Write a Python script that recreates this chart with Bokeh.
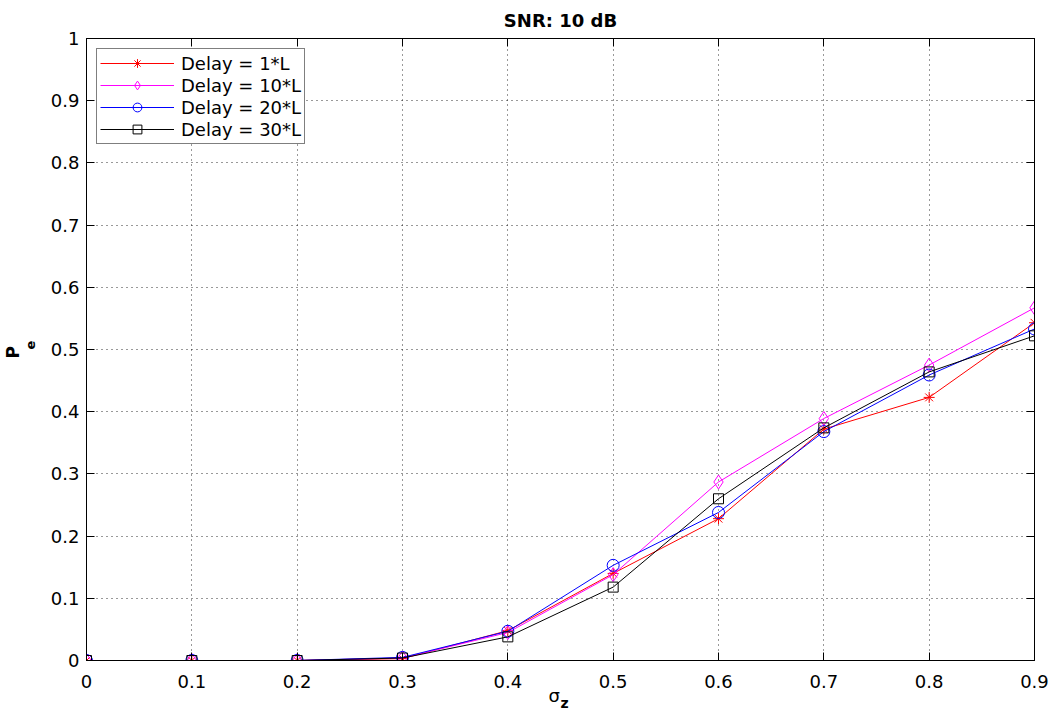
from bokeh.plotting import figure
from bokeh.models import Range1d, FixedTicker, LinearAxis, Legend, LegendItem, Title
from bokeh.embed import file_html
from bokeh.resources import INLINE

# ---- data ----
sigma_z = [0.0, 0.1, 0.2, 0.3, 0.4, 0.5, 0.6, 0.7, 0.8, 0.9]
pe_delay_1 = [0.0, 0.0, 0.0, 0.003, 0.048, 0.140, 0.228, 0.372, 0.423, 0.543]
pe_delay_10 = [0.0, 0.0, 0.0, 0.004, 0.045, 0.138, 0.287, 0.389, 0.475, 0.567]
pe_delay_20 = [0.0, 0.0, 0.0, 0.005, 0.047, 0.153, 0.238, 0.368, 0.459, 0.533]
pe_delay_30 = [0.0, 0.0, 0.0, 0.004, 0.038, 0.118, 0.260, 0.374, 0.464, 0.522]

series_names = ["Delay = 1*L", "Delay = 10*L", "Delay = 20*L", "Delay = 30*L"]
series_values = [pe_delay_1, pe_delay_10, pe_delay_20, pe_delay_30]
series_colors = ["#ff0000", "#ff00ff", "#0000ff", "#000000"]
series_markers = ["asterisk", "diamond", "circle", "square"]
series_sizes = [11, 14, 12, 10]

x_ticks = [0.0, 0.1, 0.2, 0.3, 0.4, 0.5, 0.6, 0.7, 0.8, 0.9]
x_tick_labels = ["0", "0.1", "0.2", "0.3", "0.4", "0.5", "0.6", "0.7", "0.8", "0.9"]
y_ticks = [0.0, 0.1, 0.2, 0.3, 0.4, 0.5, 0.6, 0.7, 0.8, 0.9, 1.0]
y_tick_labels = ["0", "0.1", "0.2", "0.3", "0.4", "0.5", "0.6", "0.7", "0.8", "0.9", "1"]

FONT = "DejaVu Sans"

p = figure(
    width=1050, height=710,
    x_range=Range1d(0, 0.9), y_range=Range1d(0, 1),
    output_backend="svg", toolbar_location=None,
    min_border_left=86, min_border_top=38, min_border_right=16, min_border_bottom=50,
    title="SNR: 10 dB",
)
p.title.align = "center"
p.title.vertical_align = "top"
p.title.text_font = FONT
p.title.text_font_size = "18px"
p.title.text_font_style = "bold"
p.title.text_color = "black"
p.title.standoff = 11

p.outline_line_color = "black"
p.outline_line_width = 1
p.background_fill_color = "white"
p.border_fill_color = "white"


def style_axis(ax, ticks, labels, show_labels):
    ax.ticker = FixedTicker(ticks=ticks)
    ax.major_tick_in = 8
    ax.major_tick_out = 0
    ax.minor_tick_line_color = None
    ax.axis_line_color = "black"
    ax.major_tick_line_color = "black"
    ax.major_label_text_font = FONT
    ax.major_label_text_font_size = "18px"
    ax.major_label_text_color = "black"
    if show_labels:
        ax.major_label_overrides = dict(zip(ticks, labels))
    else:
        ax.major_label_overrides = {t: "" for t in ticks}
        ax.major_label_standoff = 0


xa = p.xaxis[0]
ya = p.yaxis[0]
style_axis(xa, x_ticks, x_tick_labels, True)
style_axis(ya, y_ticks, y_tick_labels, True)
xa.major_label_standoff = 14
ya.major_label_standoff = 7

# subscript "e" of P_e as the y-axis label (next to the tick labels)
ya.axis_label = "\u00a0\u00a0e"
ya.axis_label_text_font = FONT
ya.axis_label_text_font_size = "13px"
ya.axis_label_text_font_style = "bold"
ya.axis_label_text_color = "black"
ya.axis_label_standoff = 10

top_ax = LinearAxis()
right_ax = LinearAxis()
style_axis(top_ax, x_ticks, x_tick_labels, False)
style_axis(right_ax, y_ticks, y_tick_labels, False)
p.add_layout(top_ax, "above")
p.add_layout(right_ax, "right")

p.xgrid.ticker = FixedTicker(ticks=x_ticks)
p.ygrid.ticker = FixedTicker(ticks=y_ticks)
for g in (p.xgrid, p.ygrid):
    g.grid_line_color = "black"
    g.grid_line_alpha = 0.8
    g.grid_line_dash = "1 4"
    g.grid_line_width = 1

items = []
for name, vals, col, mk, sz in zip(series_names, series_values, series_colors,
                                   series_markers, series_sizes):
    ln = p.line(sigma_z, vals, line_color=col, line_width=1)
    sc = p.scatter(sigma_z, vals, marker=mk, size=sz, line_color=col,
                   fill_color=None, line_width=1)
    items.append(LegendItem(label=name, renderers=[ln, sc]))

legend = Legend(items=items, location="top_left")
legend.label_text_font = FONT
legend.label_text_font_size = "18px"
legend.label_text_color = "black"
legend.glyph_width = 74
legend.glyph_height = 22
legend.label_height = 22
legend.spacing = 0
legend.padding = 3
legend.margin = 10
legend.label_standoff = 7
legend.border_line_color = "black"
legend.border_line_width = 1
legend.background_fill_color = "white"
legend.background_fill_alpha = 1
p.add_layout(legend, "center")

# x label sigma_z as two stacked titles below the axis
sig = Title(text="σ", align="left", vertical_align="top", offset=462,
            text_font=FONT, text_font_size="18px", text_font_style="normal",
            text_color="black", standoff=-12)
zsub = Title(text="z", align="left", vertical_align="top", offset=474,
             text_font=FONT, text_font_size="14px", text_font_style="bold",
             text_color="black", standoff=-14)
p.add_layout(sig, "below")
p.add_layout(zsub, "below")

# main letter of P_e, outside the subscript
pl = Title(text="P", align="left", vertical_align="bottom", offset=302,
           text_font=FONT, text_font_size="17px", text_font_style="bold",
           text_color="black", standoff=-7)
p.add_layout(pl, "left")

open("out.html", "w").write(file_html(p, INLINE))
